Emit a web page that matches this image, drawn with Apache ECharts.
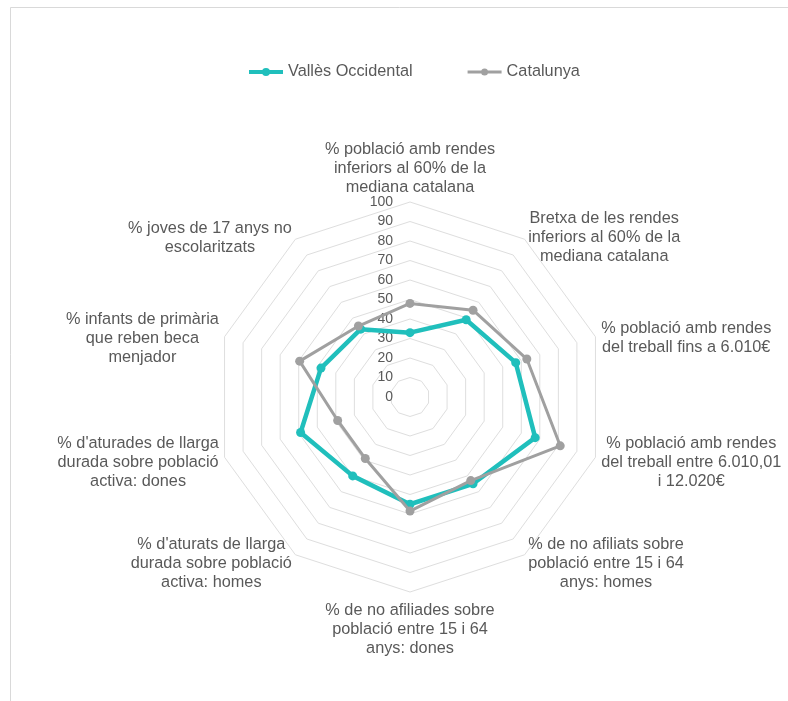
<!DOCTYPE html>
<html>
<head>
<meta charset="utf-8">
<script src="https://cdn.jsdelivr.net/npm/echarts@6/dist/echarts.min.js"></script>
<style>
  html, body { margin: 0; padding: 0; background: #fff; }
  #chart { width: 788px; height: 701px; }
</style>
</head>
<body>
<div id="chart"></div>
<script>
// Indicator names, clockwise from the top
const indicatorNames = [
  '% població amb rendes\ninferiors al 60% de la\nmediana catalana',
  'Bretxa de les rendes\ninferiors al 60% de la\nmediana catalana',
  '% població amb rendes\ndel treball fins a 6.010€',
  '% població amb rendes\ndel treball entre 6.010,01\ni 12.020€',
  '% de no afiliats sobre\npoblació entre 15 i 64\nanys: homes',
  '% de no afiliades sobre\npoblació entre 15 i 64\nanys: dones',
  "% d'aturats de llarga\ndurada sobre població\nactiva: homes",
  "% d'aturades de llarga\ndurada sobre població\nactiva: dones",
  '% infants de primària\nque reben beca\nmenjador',
  '% joves de 17 anys no\nescolaritzats'
];
const seriesNames = ['Vallès Occidental', 'Catalunya'];
const vallesValues = [33, 49, 57, 67.5, 55, 55, 50, 59, 48, 43];
const catalunyaValues = [48, 55, 63, 81, 53, 58.5, 39, 39, 59.5, 45];
const axisMin = 0;
const axisMax = 100;
const axisSplits = 10;

const FONT = '"Liberation Sans", Arial, sans-serif';
const TEXT = '#595959';
const TEAL = '#20BFBC';
const GREY = '#A0A0A0';
const NAME_SIZE = 16.3;

// ECharts lays radar axes out counter-clockwise, so walk the list backwards after the first
const order = [0];
for (let i = indicatorNames.length - 1; i >= 1; i--) order.push(i);
const pick = arr => order.map(i => arr[i]);

const indicator = order.map((i, k) => ({
  name: indicatorNames[i],
  min: axisMin,
  max: axisMax,
  axisLabel: { show: k === 0 }
}));

// legend glyphs: a bar with a dot in the middle
const tealIcon = 'path://M0,2H34V6H0Z M13,4a4,4 0 1,1 8,0a4,4 0 1,1 -8,0Z';
const greyIcon = 'path://M0,2.6H34V5.4H0Z M13.5,4a3.5,3.5 0 1,1 7,0a3.5,3.5 0 1,1 -7,0Z';

const chart = echarts.init(document.getElementById('chart'), null, { renderer: 'canvas' });
chart.setOption({
  backgroundColor: '#fff',
  animation: false,
  textStyle: { fontFamily: FONT },
  graphic: [{
    type: 'rect',
    shape: { x: 10.5, y: 7.5, width: 800, height: 720 },
    style: { fill: 'none', stroke: '#D9D9D9', lineWidth: 1 },
    silent: true
  }],
  legend: {
    left: 244,
    top: 59,
    itemWidth: 34,
    itemHeight: 8,
    itemGap: 55,
    textStyle: { color: TEXT, fontSize: NAME_SIZE, fontFamily: FONT },
    data: [
      { name: seriesNames[0], icon: tealIcon, itemStyle: { color: TEAL } },
      { name: seriesNames[1], icon: greyIcon, itemStyle: { color: GREY } }
    ]
  },
  radar: {
    center: [410, 397],
    radius: 195,
    startAngle: 90,
    splitNumber: axisSplits,
    shape: 'polygon',
    nameGap: 6,
    axisName: {
      color: TEXT,
      fontSize: NAME_SIZE,
      lineHeight: 19,
      fontFamily: FONT,
      padding: [3.5, 0, -3.5, 0],
      formatter: name => name.split('\n').map(l => '{c|' + l + '}').join('\n'),
      rich: { c: { align: 'center', color: TEXT, fontSize: NAME_SIZE, lineHeight: 19, fontFamily: FONT } }
    },
    axisLine: { show: false },
    axisTick: { show: false },
    axisLabel: { show: false, color: TEXT, fontSize: 14, fontFamily: FONT, margin: 17 },
    splitLine: { lineStyle: { color: '#DEDEDE', width: 1 } },
    splitArea: { show: false },
    indicator: indicator
  },
  series: [{
    type: 'radar',
    name: seriesNames[0],
    symbol: 'circle',
    symbolSize: 9,
    lineStyle: { color: TEAL, width: 4.5 },
    itemStyle: { color: TEAL },
    z: 2,
    data: [{ name: seriesNames[0], value: pick(vallesValues) }]
  }, {
    type: 'radar',
    name: seriesNames[1],
    symbol: 'circle',
    symbolSize: 9,
    lineStyle: { color: GREY, width: 3 },
    itemStyle: { color: GREY },
    z: 3,
    data: [{ name: seriesNames[1], value: pick(catalunyaValues) }]
  }]
});
</script>
</body>
</html>
